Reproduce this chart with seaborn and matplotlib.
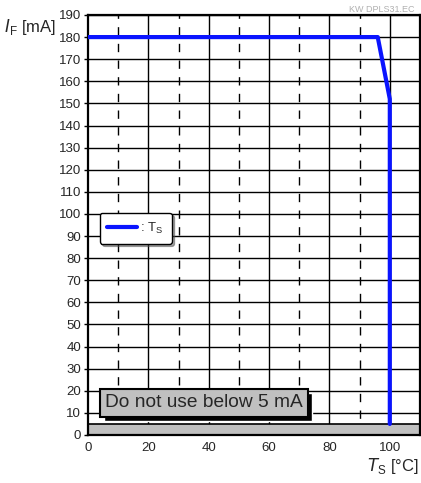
import matplotlib
matplotlib.use("Agg")
import matplotlib.pyplot as plt
import pandas as pd
import seaborn as sns
from matplotlib.patches import Rectangle

# derating curve
ts_values = [0, 96, 100, 100]
if_values = [180, 180, 152, 5]
x_ticks = [0, 20, 40, 60, 80, 100]
y_ticks = list(range(0, 191, 10))
dashed_x = [10, 30, 50, 70, 90]
limit_ma = 5

df = pd.DataFrame({"ts": ts_values, "if": if_values})

sns.set_style("white")
plt.rcParams['font.family'] = ['Liberation Sans', 'DejaVu Sans']

fig = plt.figure(figsize=(4.21, 4.83), dpi=100)
ax = fig.add_axes([0.209, 0.0994, 0.7886, 0.8696])

# grid
for y in y_ticks[1:]:
    ax.axhline(y, color='black', lw=1.0, zorder=1)
for x in x_ticks[1:]:
    ax.axvline(x, color='black', lw=1.0, zorder=1)
for x in dashed_x:
    ax.axvline(x, color='black', lw=1.0, ls=(0, (6, 6)), zorder=1)

# not-allowed band below 5 mA
ax.axhspan(0, limit_ma, facecolor='#c0c0c0', edgecolor='black', lw=1.2, zorder=2)

sns.lineplot(data=df, x="ts", y="if", sort=False, estimator=None, color='#0a14ff',
             lw=3, ax=ax, label=": T$_\\mathregular{S}$", zorder=3)

ax.set_xlim(0, 110)
ax.set_ylim(0, 190)
ax.set_xticks(x_ticks)
ax.set_yticks(y_ticks)
ax.tick_params(axis='both', labelsize=9.5, length=3, width=1, color='black',
               direction='out', left=True, bottom=False, pad=2)
for s in ax.spines.values():
    s.set_color('black')
    s.set_linewidth(1.6)
ax.set_xlabel("")
ax.set_ylabel("")

leg = ax.legend(loc='upper left', bbox_to_anchor=(0.015, 0.545), fontsize=9.5,
                frameon=True, fancybox=True, shadow=True, handlelength=2.2,
                handletextpad=0.3, borderpad=0.6, framealpha=1)
leg.get_frame().set_edgecolor('black')
leg.get_frame().set_linewidth(1.0)

# warning box with a drop shadow
note = ax.text(5.6, 14.5, "Do not use below 5 mA", fontsize=13.8, va='center',
               ha='left', zorder=5,
               bbox=dict(boxstyle='square,pad=0.28', facecolor='#c0c0c0',
                         edgecolor='black', lw=1.5))
fig.canvas.draw()
bb = note.get_bbox_patch().get_window_extent()
ax.add_patch(Rectangle((bb.x0 + 4, bb.y0 - 4), bb.width, bb.height,
                       transform=None, facecolor='black', zorder=4))

fig.text(0.01, 0.945, "$\\mathit{I}$$_\\mathregular{F}$ [mA]", fontsize=12, ha='left', va='center')
fig.text(0.995, 0.035, "$\\mathit{T}$$_\\mathregular{S}$ [°C]", fontsize=12, ha='right', va='center')
fig.text(0.985, 0.99, "KW DPLS31.EC", fontsize=6.5, color='#b0b0b0', ha='right', va='top')

fig.savefig("out.png", dpi=100)
